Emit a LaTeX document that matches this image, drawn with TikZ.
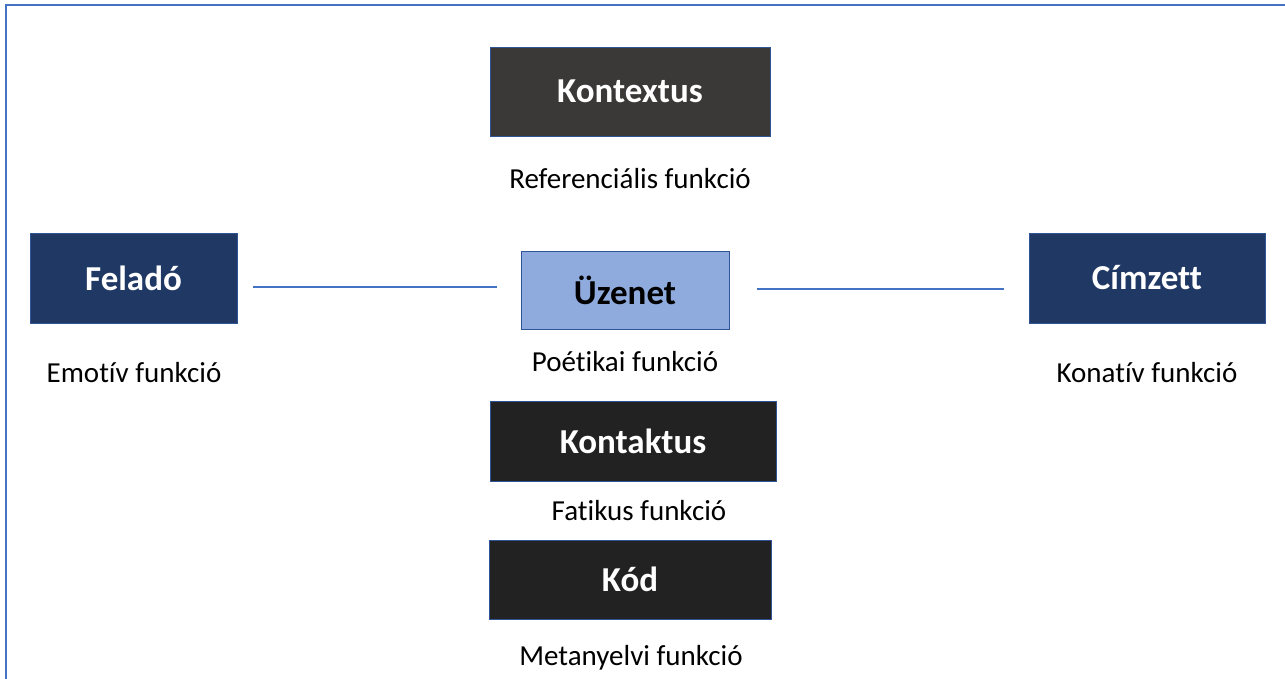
\documentclass[tikz,border=0pt]{standalone}
\usepackage{fontspec}
\setmainfont{Carlito}[Ligatures={NoCommon}]
\begin{document}
\begin{tikzpicture}[x=1pt,y=-1pt,
  box/.style={draw=boxline,line width=0.8pt,inner sep=0pt,font=\fontsize{35}{40}\selectfont\bfseries,text=white},
  lbl/.style={inner sep=0pt,font=\fontsize{29}{34}\selectfont},
  conn/.style={draw=frameblue,line width=1.6pt}]
\definecolor{frameblue}{HTML}{4472C4}
\definecolor{boxline}{HTML}{2F5597}
\definecolor{navy}{HTML}{1F3864}
\definecolor{darkgray}{HTML}{3B3838}
\definecolor{nearblack}{HTML}{222222}
\definecolor{lightblue}{HTML}{8FAADC}
\useasboundingbox (0,0) rectangle (1285,679);
\fill[white] (0,0) rectangle (1285,679);
\draw[frameblue,line width=2pt] (5.5,679) -- (5.5,5.5) -- (1285,5.5);
\node[box,fill=darkgray,minimum width=280pt,minimum height=89pt] (kontextus) at (630,91.5) {Kontextus};
\node[lbl] (ref) at (630,179) {Referenciális funkció};
\node[box,fill=navy,minimum width=207pt,minimum height=90pt] (felado) at (133.5,278) {Feladó};
\node[lbl] (emo) at (134,373) {Emotív funkció};
\node[box,fill=lightblue,text=black,minimum width=208pt,minimum height=78pt] (uzenet) at (625,290) {Üzenet};
\node[lbl] (poe) at (625,362) {Poétikai funkció};
\node[box,fill=navy,minimum width=236pt,minimum height=90pt] (cimzett) at (1147,278) {Címzett};
\node[lbl] (kon) at (1147,373) {Konatív funkció};
\node[box,fill=nearblack,minimum width=286pt,minimum height=80pt] (kontaktus) at (633,441) {Kontaktus};
\node[lbl] (fat) at (639,511) {Fatikus funkció};
\node[box,fill=nearblack,minimum width=282pt,minimum height=79pt] (kod) at (630,579.5) {Kód};
\node[lbl] (meta) at (631,658) {Metanyelvi funkció};
\coordinate (a1) at (253,287);
\coordinate (a2) at (497,287);
\coordinate (b1) at (757,289);
\coordinate (b2) at (1004,289);
\draw[conn] (a1) -- (a2);
\draw[conn] (b1) -- (b2);
\end{tikzpicture}
\end{document}
